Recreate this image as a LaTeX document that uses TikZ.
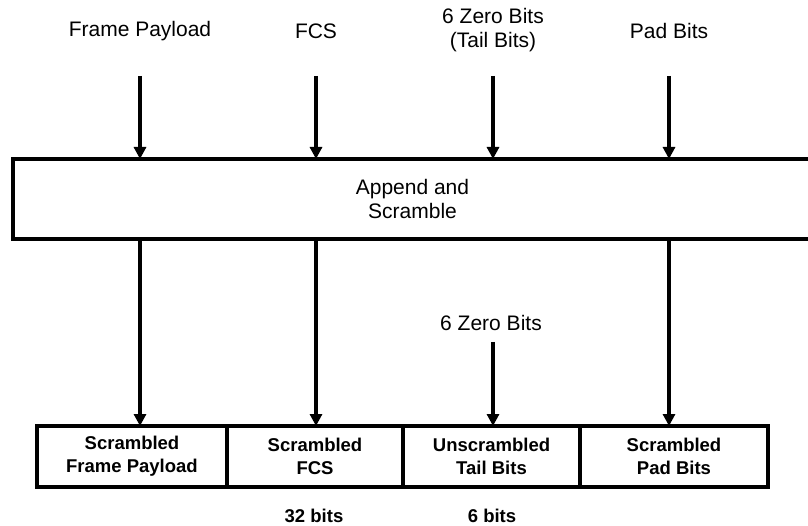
\documentclass[tikz,border=0pt]{standalone}
\usepackage{fontspec}
\setmainfont{Liberation Sans}
\usetikzlibrary{arrows.meta,positioning}

\begin{document}
\begin{tikzpicture}[
  x=1pt, y=-1pt,
  font=\fontsize{21}{24}\selectfont,
  lbl/.style={align=center, inner sep=0pt},
  seg/.style={draw, line width=3.2pt, minimum height=61pt, inner sep=0pt, outer sep=0pt, align=center, font=\fontsize{18.5}{23}\selectfont\bfseries},
  arr/.style={line width=3.2pt, -{Triangle[length=12pt,width=12pt]}}
]
\useasboundingbox (0,0) rectangle (808,526);

% inputs
\node[lbl] (fp) at (140,31) {Frame Payload};
\node[lbl] (fcs) at (316,31) {FCS};
\node[lbl] (tail) at (493,30) {6 Zero Bits\\(Tail Bits)};
\node[lbl] (pad) at (669,31) {Pad Bits};
\coordinate (fp-in) at (140,76);
\coordinate (fcs-in) at (316,76);
\coordinate (tail-in) at (493,76);
\coordinate (pad-in) at (669,76);

\node[draw, line width=3.2pt, minimum width=799pt, minimum height=80pt, outer sep=0pt, align=center] (scr) at (412.5,199) {Append and\\Scramble};

% output fields
\node[seg, minimum width=190pt, anchor=north west] (sfp) at (37,426) {Scrambled\\Frame Payload};
\node[seg, minimum width=176pt, right=0pt of sfp] (sfcs) {Scrambled\\FCS};
\node[seg, minimum width=177pt, right=0pt of sfcs] (stail) {Unscrambled\\Tail Bits};
\node[seg, minimum width=188pt, right=0pt of stail] (spad) {Scrambled\\Pad Bits};

\node[lbl] (zero) at (491,323) {6 Zero Bits};
\coordinate (zero-in) at (493,342);

\node[lbl, font=\fontsize{18.5}{20}\selectfont\bfseries] (nfcs) at (314,516) {32 bits};
\node[lbl, font=\fontsize{18.5}{20}\selectfont\bfseries] (ntail) at (492,516) {6 bits};

\foreach \n in {fp,fcs,tail,pad}
  \draw[arr] (\n-in) -- (\n-in |- scr.north);
\draw[arr] (fp-in |- scr.south) -- (fp-in |- sfp.north);
\draw[arr] (fcs-in |- scr.south) -- (fcs-in |- sfcs.north);
\draw[arr] (pad-in |- scr.south) -- (pad-in |- spad.north);
\draw[arr] (zero-in) -- (zero-in |- stail.north);
\end{tikzpicture}
\end{document}
